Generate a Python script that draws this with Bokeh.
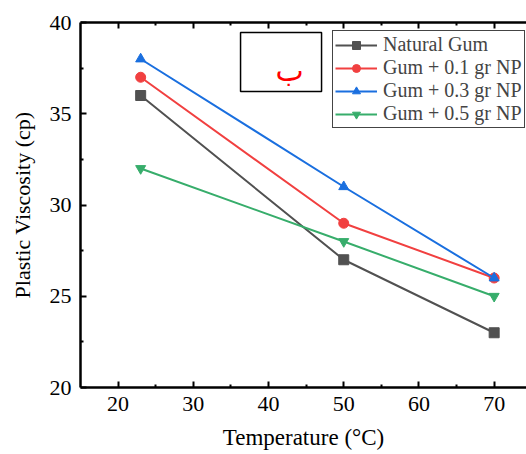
from bokeh.plotting import figure
from bokeh.models import (LinearAxis, Range1d, FixedTicker, BoxAnnotation, Legend, LegendItem, Label)
from bokeh.embed import file_html
from bokeh.resources import INLINE

temperature = [23, 50, 70]
natural_gum = [36, 27, 23]
gum_01 = [37, 29, 26]
gum_03 = [38, 31, 26]
gum_05 = [32, 28, 25]
series_names = ["Natural Gum", "Gum + 0.1 gr NP", "Gum + 0.3 gr NP", "Gum + 0.5 gr NP"]
x_ticks = [20, 30, 40, 50, 60, 70]
y_ticks = [20, 25, 30, 35, 40]
x_title = "Temperature (°C)"
y_title = "Plastic Viscosity (cp)"

FONT = "Liberation Serif"

p = figure(width=526, height=454, output_backend="svg", toolbar_location=None,
           x_range=Range1d(15, 74.3), y_range=Range1d(20, 40),
           min_border_left=80, min_border_top=22, min_border_bottom=67, min_border_right=0,
           x_axis_label=x_title, y_axis_label=y_title)
p.outline_line_color = None
p.xgrid.visible = False
p.ygrid.visible = False
p.background_fill_color = "white"
p.border_fill_color = "white"

for ax in (p.xaxis[0], p.yaxis[0]):
    ax.axis_line_width = 2.5
    ax.axis_line_color = "black"
    ax.major_tick_in = 6
    ax.major_tick_out = 0
    ax.minor_tick_in = 3
    ax.minor_tick_out = 0
    ax.major_tick_line_width = 2
    ax.minor_tick_line_width = 2
    ax.major_label_text_font = FONT
    ax.major_label_text_font_size = "22px"
    ax.major_label_text_color = "black"
    ax.axis_label_text_font = FONT
    ax.axis_label_text_font_style = "normal"
    ax.axis_label_text_color = "black"
    ax.major_label_standoff = 9

p.xaxis[0].axis_label_text_font_size = "23px"
p.yaxis[0].axis_label_text_font_size = "22px"
p.xaxis[0].axis_label_standoff = 11
p.xaxis[0].ticker = FixedTicker(ticks=x_ticks, minor_ticks=[25, 35, 45, 55, 65])
p.yaxis[0].ticker = FixedTicker(ticks=y_ticks, minor_ticks=[22.5, 27.5, 32.5, 37.5])
p.yaxis[0].axis_label_standoff = 12

top = LinearAxis(ticker=FixedTicker(ticks=x_ticks, minor_ticks=[25, 35, 45, 55, 65]),
                 major_label_text_font_size="0px", axis_line_width=2.5,
                 major_tick_in=6, major_tick_out=0, minor_tick_in=3, minor_tick_out=0,
                 major_tick_line_width=2, minor_tick_line_width=2)
p.add_layout(top, "above")

colors = ["#515151", "#F14040", "#1A6FDF", "#37AD6B"]
markers = ["square", "circle", "triangle", "inverted_triangle"]
data = [natural_gum, gum_01, gum_03, gum_05]
items = []
for name, ys, c, m in zip(series_names, data, colors, markers):
    r1 = p.line(temperature, ys, line_color=c, line_width=2)
    r2 = p.scatter(temperature, ys, marker=m, size=10, fill_color=c, line_color=c)
    items.append(LegendItem(label=name, renderers=[r1, r2]))

legend = Legend(items=items, location=(252, 259), label_text_font=FONT,
                label_text_font_size="20px", glyph_width=42, glyph_height=20,
                label_height=20, label_standoff=6, spacing=0, padding=2, margin=0,
                border_line_color="#444444", border_line_width=1.5, border_line_alpha=1,
                background_fill_alpha=1)
p.add_layout(legend, "center")

box = BoxAnnotation(left=36.28, right=47.05, bottom=36.22, top=39.45,
                    fill_alpha=0, line_color="black", line_alpha=1, line_width=1.5)
p.add_layout(box)
p.add_layout(Label(x=42.8, y=37.37, text="ب", text_color="#ff0000",
                   text_font="DejaVu Sans", text_font_size="30px",
                   text_align="center", text_baseline="middle"))

open("out.html", "w").write(file_html(p, INLINE))
